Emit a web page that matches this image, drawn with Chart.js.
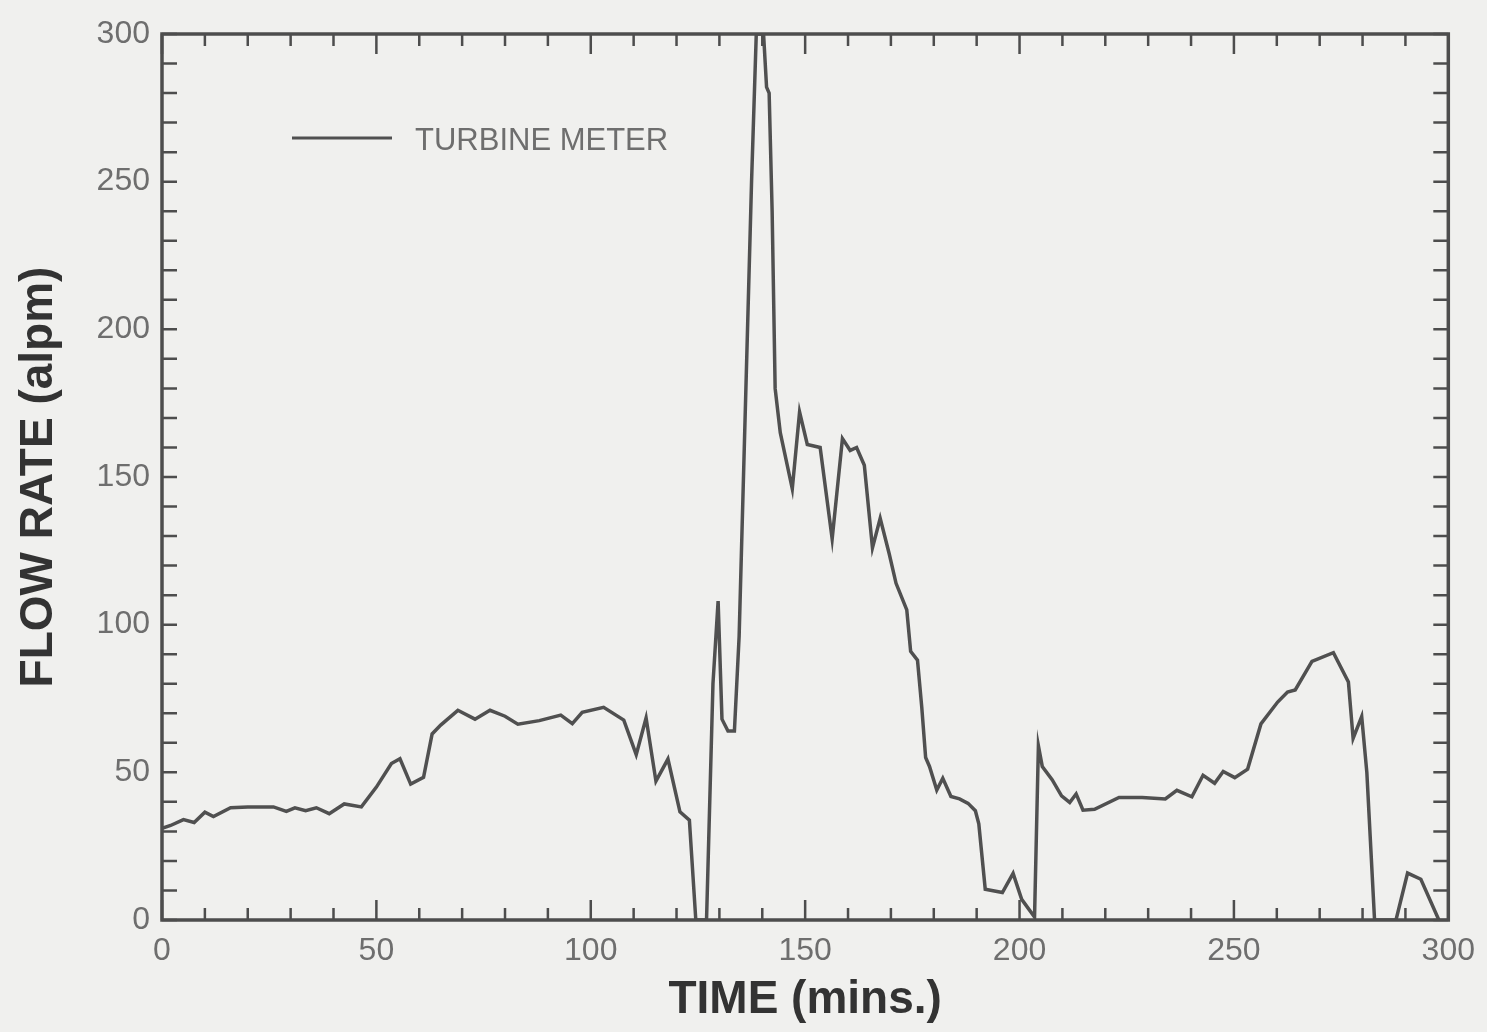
<!DOCTYPE html>
<html>
<head>
<meta charset="utf-8">
<script src="https://cdn.jsdelivr.net/npm/chart.js@4.4.1/dist/chart.umd.min.js"></script>
<style>
  html, body { margin: 0; padding: 0; background: #f0f0ee; }
  #wrap { width: 1487px; height: 1032px; }
</style>
</head>
<body>
<div id="wrap"><canvas id="flowChart" width="1487" height="1032"></canvas></div>
<script>
// Turbine meter flow rate vs time
const timeMins = [
  0, 2, 5, 7.5, 10, 12, 16, 20, 26, 29, 31, 33.5, 36, 39, 42.5, 46.5, 50, 53.5, 55.5, 58,
  61, 63, 65, 69, 73, 76.5, 80, 83, 88, 93, 95.7, 98, 103, 107.7, 110.6, 112.9, 115.2, 118,
  120.8, 123, 124.5, 127, 128.5, 129.7, 130.6, 132, 133.5, 134.6, 137.5, 138.6, 140.3, 141,
  141.6, 142.3, 143, 144.2, 147, 148.7, 150.5, 153.5, 156.3, 158.7, 160.5, 162, 163.8, 165.7,
  167.5, 169.6, 171.2, 173.7, 174.6, 176.2, 177.2, 178.1, 179, 180.7, 182.1, 184, 186, 188,
  189.7, 190.5, 192, 196, 198.5, 200.5, 203.5, 204.4, 205.3, 207.6, 209.8, 211.7, 213.2,
  214.8, 217.5, 223.2, 228.6, 234, 236.7, 240.2, 242.8, 245.5, 247.5, 250.2, 253.2, 256.3,
  260.2, 262.5, 264.3, 268.2, 273.2, 276.7, 277.8, 279.8, 281, 282.8, 287.8, 290.5, 293.6, 297.8
];
const flowRate = [
  31, 32, 34, 33, 36.5, 35, 38, 38.3, 38.3, 36.8, 38, 37, 38, 36, 39.3, 38.3, 45, 53, 54.6, 46,
  48.3, 63, 66, 71, 68, 71, 69, 66.3, 67.5, 69.4, 66.5, 70.3, 72, 67.7, 56, 68.4, 47, 54.5,
  36.6, 33.8, 0, 0, 80, 108, 68, 64, 64, 96, 250, 300, 300, 282,
  280, 240, 180, 165, 146, 172, 161, 160, 129, 163, 159, 160, 154, 126,
  136, 124, 114, 105, 91, 88, 72, 55, 52, 44, 48, 41.8, 41, 39.5,
  37, 32.6, 10.4, 9.3, 15.8, 7, 1, 59, 52, 47.5, 42, 39.8, 42.7,
  37.2, 37.5, 41.5, 41.5, 41, 43.9, 41.7, 49, 46.3, 50.3, 48.2, 51.1, 66.4,
  73.8, 77.2, 77.9, 87.6, 90.5, 80.6, 61.5, 68.9, 50, 0, 0, 15.9, 13.8, 0
];
const xTickLabels = [0, 50, 100, 150, 200, 250, 300];
const yTickLabels = [0, 50, 100, 150, 200, 250, 300];
const seriesName = "TURBINE METER";

const inkColor = "#4d4d4d";
const labelColor = "#6e6e6e";

// paper background
const paperBg = {
  id: "paperBg",
  beforeDraw(chart) {
    const ctx = chart.ctx;
    ctx.save();
    ctx.fillStyle = "#f0f0ee";
    ctx.fillRect(0, 0, chart.width, chart.height);
    ctx.restore();
  }
};

// box frame with inward ticks on all four sides, minor every 10
const frameTicks = {
  id: "frameTicks",
  afterDraw(chart) {
    const { ctx, chartArea: a, scales: { x, y } } = chart;
    ctx.save();
    ctx.strokeStyle = inkColor;
    ctx.lineWidth = 2.5;
    for (let v = 0; v <= 300; v += 10) {
      const len = xTickLabels.includes(v) ? 20 : 12;
      const px = x.getPixelForValue(v);
      const py = y.getPixelForValue(v);
      ctx.beginPath();
      ctx.moveTo(px, a.bottom); ctx.lineTo(px, a.bottom - len);
      ctx.moveTo(px, a.top); ctx.lineTo(px, a.top + len);
      ctx.moveTo(a.left, py); ctx.lineTo(a.left + 15, py);
      ctx.moveTo(a.right, py); ctx.lineTo(a.right - 15, py);
      ctx.stroke();
    }
    ctx.lineWidth = 3.5;
    ctx.strokeRect(a.left, a.top, a.width, a.height);
    ctx.restore();
  }
};

// legend sample drawn inside the plot, upper left
const insideLegend = {
  id: "insideLegend",
  afterDraw(chart) {
    const { ctx, chartArea: a } = chart;
    const ds = chart.data.datasets[0];
    const lx = a.left + 130, ly = a.top + 104;
    ctx.save();
    ctx.strokeStyle = ds.borderColor;
    ctx.lineWidth = 3;
    ctx.beginPath();
    ctx.moveTo(lx, ly); ctx.lineTo(lx + 100, ly);
    ctx.stroke();
    ctx.fillStyle = labelColor;
    ctx.font = "31px 'Liberation Sans', Arial, sans-serif";
    ctx.textBaseline = "middle";
    ctx.fillText(ds.label, lx + 123, ly + 3);
    ctx.restore();
  }
};

const ctx = document.getElementById("flowChart").getContext("2d");
const flowChart = new Chart(ctx, {
  type: "line",
  data: {
    datasets: [{
      label: seriesName,
      data: timeMins.map((t, i) => ({ x: t, y: flowRate[i] })),
      borderColor: "#505050",
      borderWidth: 3.5,
      pointRadius: 0,
      tension: 0,
      fill: false
    }]
  },
  options: {
    responsive: false,
    animation: false,
    layout: { padding: { top: 34, right: 30, left: 0, bottom: 0 } },
    plugins: {
      legend: { display: false },
      tooltip: { enabled: false }
    },
    scales: {
      x: {
        type: "linear",
        min: 0,
        max: 300,
        afterFit: (s) => { s.height = 112; },
        grid: { display: false, drawTicks: false },
        border: { display: false },
        afterBuildTicks: (s) => { s.ticks = xTickLabels.map(v => ({ value: v })); },
        ticks: {
          padding: 12,
          color: labelColor,
          font: { family: "'Liberation Sans', Arial, sans-serif", size: 32 }
        },
        title: {
          display: true,
          text: "TIME (mins.)",
          color: "#333",
          padding: { top: 0, bottom: 4 },
          font: { family: "'Liberation Sans', Arial, sans-serif", size: 46, weight: "bold" }
        }
      },
      y: {
        min: 0,
        max: 300,
        afterFit: (s) => { s.width = 162; },
        grid: { display: false, drawTicks: false },
        border: { display: false },
        afterBuildTicks: (s) => { s.ticks = yTickLabels.map(v => ({ value: v })); },
        ticks: {
          padding: 12,
          color: labelColor,
          font: { family: "'Liberation Sans', Arial, sans-serif", size: 32 }
        },
        title: {
          display: true,
          text: "FLOW RATE (alpm)",
          color: "#333",
          padding: { top: 12, bottom: 0 },
          font: { family: "'Liberation Sans', Arial, sans-serif", size: 46, weight: "bold" }
        }
      }
    }
  },
  plugins: [paperBg, frameTicks, insideLegend]
});
</script>
</body>
</html>
